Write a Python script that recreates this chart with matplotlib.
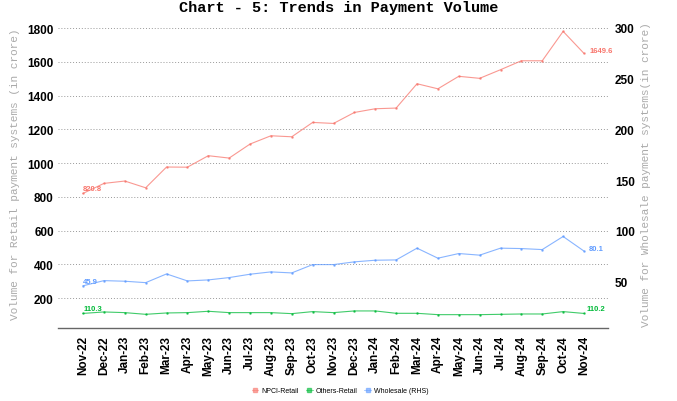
import matplotlib
matplotlib.use("Agg")
import matplotlib.pyplot as plt
from matplotlib.lines import Line2D

months = ["Nov-22", "Dec-22", "Jan-23", "Feb-23", "Mar-23", "Apr-23", "May-23", "Jun-23",
          "Jul-23", "Aug-23", "Sep-23", "Oct-23", "Nov-23", "Dec-23", "Jan-24", "Feb-24",
          "Mar-24", "Apr-24", "May-24", "Jun-24", "Jul-24", "Aug-24", "Sep-24", "Oct-24", "Nov-24"]
npci_retail = [820.8, 880, 894, 854, 977, 976, 1044, 1030, 1113, 1162, 1156, 1241, 1235,
               1300, 1322, 1326, 1470, 1440, 1514, 1502, 1553, 1606, 1606, 1780, 1649.6]
others_retail = [110.3, 119, 115, 105, 113, 115, 123, 115, 115, 115, 109, 121, 115,
                 125, 125, 111, 111, 103, 103, 103, 105, 107, 107, 121, 110.2]
wholesale = [45.9, 51.0, 50.4, 49.0, 57.6, 50.7, 51.7, 54.0, 57.3, 59.6, 58.6, 66.8, 66.8,
             69.5, 71.1, 71.4, 83.0, 73.1, 77.7, 76.1, 83.0, 82.6, 81.6, 94.5, 80.1]
left_ticks = [200, 400, 600, 800, 1000, 1200, 1400, 1600, 1800]
right_ticks = [50, 100, 150, 200, 250, 300]

c_npci = "#F8766D"
c_oth = "#00BA38"
c_wh = "#619CFF"

fig = plt.figure(figsize=(6.77, 4.02), dpi=100)
ax = fig.add_axes([58/677, 1-329/402, 550/677, 300/402])
ax2 = ax.twinx()

x = list(range(len(months)))
ax.plot(x, npci_retail, color=c_npci, lw=0.8, alpha=0.75, marker='o', ms=0.8)
ax.plot(x, others_retail, color=c_oth, lw=0.8, alpha=0.75, marker='o', ms=0.8)
ax2.plot(x, wholesale, color=c_wh, lw=0.8, alpha=0.75, marker='o', ms=0.8)

ax.set_xlim(-1.2, 25.15)
ax.set_ylim(24, 1800)
ax2.set_ylim(4.3, 300)

ax.set_yticks(left_ticks)
ax2.set_yticks(right_ticks)
ax.set_xticks(x)
ax.set_xticklabels(months, rotation=90, fontweight='bold', fontsize=8.5,
                   family='Liberation Sans')
for t in ax.get_yticklabels():
    t.set_fontweight('bold'); t.set_family('Liberation Sans'); t.set_fontsize(8.5)
for t in ax2.get_yticklabels():
    t.set_fontweight('bold'); t.set_family('Liberation Sans'); t.set_fontsize(8.5)

ax.tick_params(axis='y', length=0, pad=3)
ax2.tick_params(axis='y', length=0, pad=5)
ax.tick_params(axis='x', length=0, pad=5)

ax.grid(axis='y', linestyle=(0, (1, 2)), color='#999999', lw=0.7)
ax.set_axisbelow(True)
for a in (ax, ax2):
    for s in ['top', 'left', 'right']:
        a.spines[s].set_visible(False)
ax2.spines['bottom'].set_visible(False)
ax.spines['bottom'].set_color('#666666')
ax.spines['bottom'].set_linewidth(1.0)

ax.set_ylabel("Volume for Retail payment systems (in crore)", family='Liberation Mono',
              color='#aaaaaa', fontsize=8)
ax.yaxis.set_label_coords((20 - 58) / 550, 0.515)
ax2.set_ylabel("Volume for Wholesale payment systems(in crore)", family='Liberation Mono',
               color='#aaaaaa', fontsize=8, rotation=90)
ax2.yaxis.set_label_coords((641 - 58) / 550, 0.515)

fig.suptitle("Chart - 5: Trends in Payment Volume", family='Liberation Mono',
             fontweight='bold', fontsize=11, y=0.997)

# value labels
kw = dict(fontsize=5.5, fontweight='bold', family='Liberation Sans')
ax.text(x[0], npci_retail[0] + 8, f"{npci_retail[0]}", color=c_npci, ha='left', va='bottom', **kw)
ax.text(x[-1] + 0.25, npci_retail[-1] + 15, f"{npci_retail[-1]}", color=c_npci, ha='left', va='center', **kw)
ax.text(x[0], others_retail[0] + 10, f"{others_retail[0]}", color=c_oth, ha='left', va='bottom', **kw)
ax.text(x[-1] + 0.1, others_retail[-1] + 10, f"{others_retail[-1]}", color=c_oth, ha='left', va='bottom', **kw)
ax2.text(x[0], wholesale[0] + 1, f"{wholesale[0]}", color=c_wh, ha='left', va='bottom', **kw)
ax2.text(x[-1] + 0.25, wholesale[-1] + 3, f"{wholesale[-1]}", color=c_wh, ha='left', va='center', **kw)

handles = [Line2D([], [], color=c, lw=0.6, marker='s', ms=2.5, alpha=0.6)
           for c in (c_npci, c_oth, c_wh)]
fig.legend(handles, ["NPCI-Retail", "Others-Retail", "Wholesale (RHS)"], loc='center',
           bbox_to_anchor=(340/677, 1-392/402), ncol=3, frameon=False,
           prop={'family': 'Liberation Sans', 'size': 5}, handlelength=1.0,
           handletextpad=0.4, columnspacing=1.0)

fig.savefig("out.png", dpi=100)
